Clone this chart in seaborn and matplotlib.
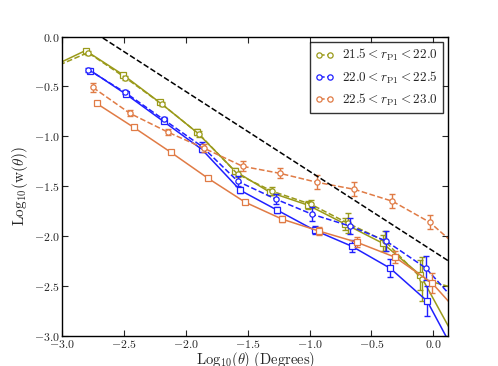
import matplotlib
matplotlib.use('Agg')
import matplotlib.pyplot as plt
import seaborn as sns
from matplotlib.ticker import FormatStrFormatter, MultipleLocator

# ---- data ----
olive_sol_x = [-3.2, -2.81, -2.51, -2.21, -1.91, -1.60, -1.32, -1.01, -0.71, -0.41, -0.105, 0.2]
olive_sol_y = [-0.37, -0.14, -0.38, -0.66, -0.96, -1.35, -1.56, -1.69, -1.88, -2.07, -2.39, -3.08]
olive_sol_err = [0, 0.02, 0.02, 0.02, 0.03, 0.03, 0.03, 0.04, 0.06, 0.08, 0.15, 0]

olive_dash_x = [-3.2, -2.79, -2.49, -2.19, -1.89, -1.58, -1.30, -0.99, -0.69, -0.39, -0.09, 0.2]
olive_dash_y = [-0.38, -0.16, -0.41, -0.68, -0.98, -1.38, -1.55, -1.68, -1.87, -2.05, -2.43, -2.53]
olive_dash_err = [0, 0.02, 0.02, 0.02, 0.03, 0.03, 0.04, 0.04, 0.1, 0.1, 0.22, 0]

blue_sol_x = [-2.77, -2.48, -2.18, -1.87, -1.56, -1.26, -0.96, -0.66, -0.35, -0.05, 0.2]
blue_sol_y = [-0.34, -0.58, -0.85, -1.13, -1.54, -1.74, -1.94, -2.10, -2.32, -2.65, -3.23]
blue_sol_err = [0.02, 0.02, 0.02, 0.03, 0.03, 0.03, 0.04, 0.06, 0.09, 0.15, 0]

blue_dash_x = [-2.79, -2.49, -2.18, -1.87, -1.58, -1.27, -0.98, -0.67, -0.38, -0.06, 0.2]
blue_dash_y = [-0.33, -0.56, -0.83, -1.10, -1.45, -1.63, -1.78, -1.90, -2.05, -2.32, -2.68]
blue_dash_err = [0.02, 0.02, 0.02, 0.04, 0.05, 0.05, 0.07, 0.08, 0.1, 0.12, 0]

orange_sol_x = [-2.72, -2.42, -2.12, -1.82, -1.52, -1.22, -0.92, -0.62, -0.31, -0.01, 0.2]
orange_sol_y = [-0.67, -0.91, -1.16, -1.42, -1.66, -1.83, -1.95, -2.06, -2.21, -2.47, -2.76]
orange_sol_err = [0.01, 0.01, 0.01, 0.02, 0.02, 0.03, 0.04, 0.05, 0.06, 0.1, 0]

orange_dash_x = [-2.75, -2.45, -2.14, -1.85, -1.54, -1.24, -0.94, -0.64, -0.33, -0.03, 0.2]
orange_dash_y = [-0.51, -0.77, -0.96, -1.12, -1.30, -1.37, -1.46, -1.53, -1.65, -1.86, -2.11]
orange_dash_err = [0.05, 0.03, 0.03, 0.04, 0.05, 0.05, 0.07, 0.07, 0.07, 0.07, 0]

ref_x = [-3.0, 0.2]
ref_y = [0.25, -2.31]

labels = [r'$21.5 < r_{\mathrm{P1}} < 22.0$',
          r'$22.0 < r_{\mathrm{P1}} < 22.5$',
          r'$22.5 < r_{\mathrm{P1}} < 23.0$']
colors = ['#9a9a1a', '#2020ff', '#e07b45']

sns.set_style('ticks')
plt.rcParams['mathtext.fontset'] = 'cm'
plt.rcParams['font.family'] = ['DejaVu Serif']

fig = plt.figure(figsize=(4.98, 3.66), dpi=100)
ax = fig.add_axes([0.1245, 0.082, 0.7755, 0.818])

series = [
    (olive_sol_x, olive_sol_y, olive_sol_err, olive_dash_x, olive_dash_y, olive_dash_err),
    (blue_sol_x, blue_sol_y, blue_sol_err, blue_dash_x, blue_dash_y, blue_dash_err),
    (orange_sol_x, orange_sol_y, orange_sol_err, orange_dash_x, orange_dash_y, orange_dash_err),
]

for (sx, sy, se, dx, dy, de), col, lab in zip(series, colors, labels):
    ax.errorbar(sx, sy, yerr=se, fmt='none', ecolor=col, elinewidth=1.0, capsize=2.5)
    ax.errorbar(dx, dy, yerr=de, fmt='none', ecolor=col, elinewidth=1.0, capsize=2.5)
    sns.lineplot(x=sx, y=sy, ax=ax, color=col, linewidth=1.1, marker='s',
                 markersize=3.8, markerfacecolor='white', markeredgecolor=col,
                 markeredgewidth=0.9, sort=False, estimator=None)
    sns.lineplot(x=dx, y=dy, ax=ax, color=col, linewidth=1.1, linestyle='--',
                 marker='o', markersize=3.8, markerfacecolor='white',
                 markeredgecolor=col, markeredgewidth=0.9, sort=False,
                 estimator=None, label=lab)

sns.lineplot(x=ref_x, y=ref_y, ax=ax, color='black', linewidth=1.1,
             linestyle='--', sort=False, estimator=None)

ax.set_xlim(-3.0, 0.12)
ax.set_ylim(-3.0, 0.0)
ax.xaxis.set_major_locator(MultipleLocator(0.5))
ax.yaxis.set_major_locator(MultipleLocator(0.5))
ax.xaxis.set_major_formatter(FormatStrFormatter('$%.1f$'))
ax.yaxis.set_major_formatter(FormatStrFormatter('$%.1f$'))
ax.tick_params(direction='in', top=True, right=True, length=4, width=0.8,
               labelsize=8.5, pad=1.5)
for sp in ax.spines.values():
    sp.set_linewidth(1.0)
    sp.set_color('black')

ax.set_xlabel(r'$\mathrm{Log}_{10}(\theta)\ \mathrm{(Degrees)}$', fontsize=10.5, labelpad=-0.5)
ax.set_ylabel(r'$\mathrm{Log}_{10}(\mathrm{w}(\theta))$', fontsize=11, labelpad=3)

leg = ax.legend(loc='upper right', fontsize=9.5, numpoints=2, frameon=True,
                fancybox=False, handlelength=1.4, handletextpad=0.6,
                borderpad=0.4, labelspacing=0.45, borderaxespad=0.4)
leg.get_frame().set_edgecolor('black')
leg.get_frame().set_linewidth(1.0)

fig.savefig('out.png', dpi=100)
